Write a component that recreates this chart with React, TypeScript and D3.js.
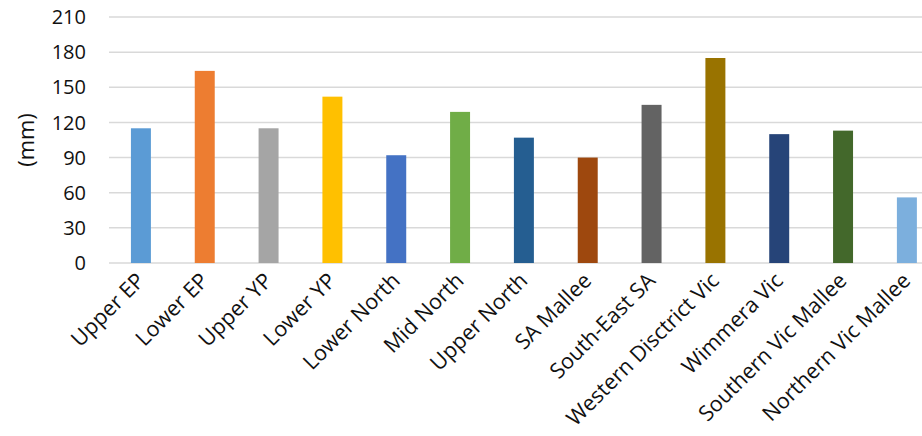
import React from "react";
import * as d3 from "d3";

const categories = [
  "Upper EP", "Lower EP", "Upper YP", "Lower YP", "Lower North", "Mid North",
  "Upper North", "SA Mallee", "South-East SA", "Western Disctrict Vic",
  "Wimmera Vic", "Southern Vic Mallee", "Northern Vic Mallee",
];
const values = [115, 164, 115, 142, 92, 129, 107, 90, 135, 175, 110, 113, 56];
const colors = [
  "#5B9BD5", "#ED7D31", "#A5A5A5", "#FFC000", "#4472C4", "#70AD47",
  "#255E91", "#9E480E", "#636363", "#997300", "#264478", "#43682B", "#7CAFDD",
];
const yTicks = [0, 30, 60, 90, 120, 150, 180, 210];
const yTitle = "(mm)";

const W = 922;
const H = 436;
const FONT = "'Open Sans', sans-serif";

export default function App() {
  const x = d3
    .scaleBand<string>()
    .domain(categories)
    .range([109, 938.8])
    .paddingInner(0.687)
    .paddingOuter(0.3435);
  const y = d3.scaleLinear().domain([0, 210]).range([263, 17]);

  return (
    <svg
      width={W}
      height={H}
      style={{ position: "absolute", left: 0, top: 0, background: "#fff" }}
    >
      {yTicks.map((t) => (
        <g key={t}>
          <line
            x1={109}
            x2={W}
            y1={y(t)}
            y2={y(t)}
            stroke="#d9d9d9"
            strokeWidth={1.5}
          />
          <text
            x={86}
            y={y(t)}
            dy="0.36em"
            textAnchor="end"
            fontFamily={FONT}
            fontSize={20}
            fill="#111"
          >
            {t}
          </text>
        </g>
      ))}
      {categories.map((c, i) => (
        <rect
          key={c}
          x={x(c)}
          width={x.bandwidth()}
          y={y(values[i])}
          height={y(0) - y(values[i])}
          fill={colors[i]}
        />
      ))}
      {categories.map((c) => {
        const cx = (x(c) as number) + x.bandwidth() / 2 + 5;
        const cy = 282;
        return (
          <text
            key={c}
            transform={`translate(${cx},${cy}) rotate(-45)`}
            textAnchor="end"
            fontFamily={FONT}
            fontSize={21.5}
            fill="#111"
          >
            {c}
          </text>
        );
      })}
      <text
        transform={`translate(34,140) rotate(-90)`}
        textAnchor="middle"
        fontFamily={FONT}
        fontSize={22}
        fill="#111"
      >
        {yTitle}
      </text>
    </svg>
  );
}
